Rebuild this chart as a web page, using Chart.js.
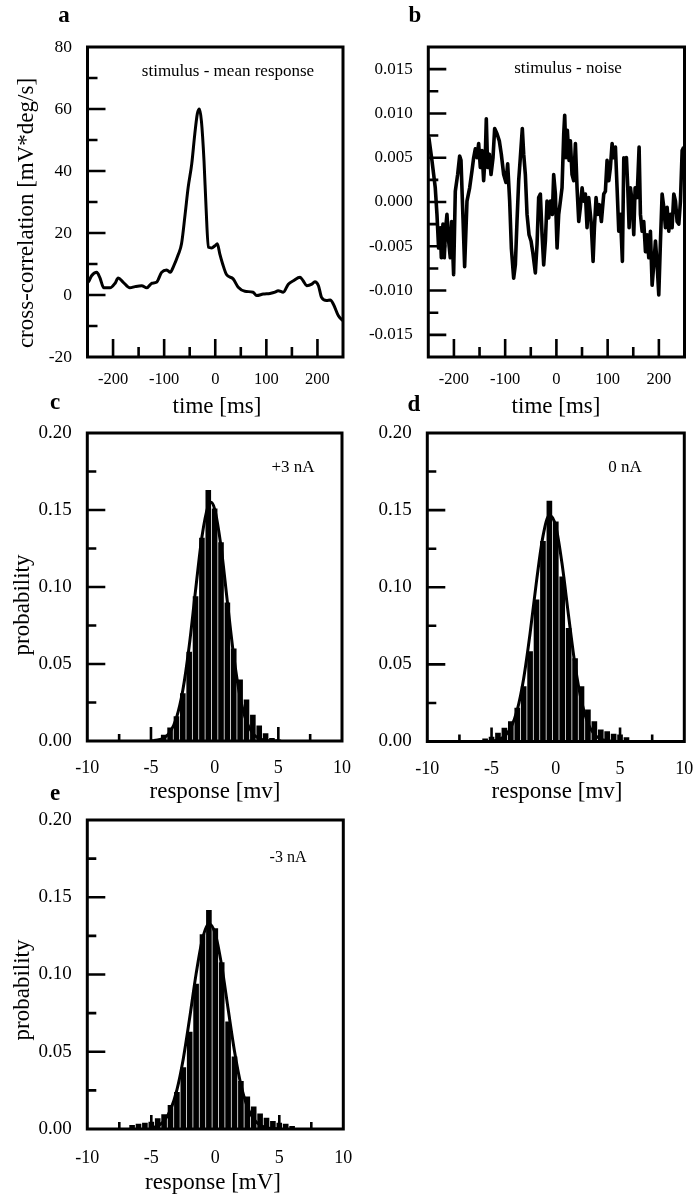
<!DOCTYPE html>
<html>
<head>
<meta charset="utf-8">
<script src="https://cdn.jsdelivr.net/npm/chart.js@4.4.0/dist/chart.umd.min.js"></script>
<style>
html,body{margin:0;padding:0;background:#fff;}
#wrap{position:relative;width:695px;height:1199px;overflow:hidden;font-family:'Liberation Serif','Times New Roman',serif;color:#000;}
#wrap canvas{position:absolute;left:0;top:0;}
.t{position:absolute;white-space:nowrap;line-height:1;transform:translateX(-50%);}
.r{position:absolute;white-space:nowrap;line-height:1;transform:translate(-50%,-50%) rotate(-90deg);}
.p{font-weight:bold;font-size:23px;}
</style>
</head>
<body>
<div id="wrap">
<canvas id="ca" width="780" height="1199"></canvas>
<canvas id="cb" width="780" height="1199"></canvas>
<canvas id="cc" width="780" height="1199"></canvas>
<canvas id="cd" width="780" height="1199"></canvas>
<canvas id="ce" width="780" height="1199"></canvas>

<div class="t p" style="left:64px;top:2.7px;">a</div>
<div class="t p" style="left:415px;top:2.7px;">b</div>
<div class="t p" style="left:55px;top:389.7px;">c</div>
<div class="t p" style="left:414px;top:391.7px;">d</div>
<div class="t p" style="left:55px;top:780.7px;">e</div>

<div class="t" style="left:228px;top:61.8px;font-size:17px;">stimulus - mean response</div>
<div class="t" style="left:568px;top:58.8px;font-size:17px;">stimulus - noise</div>
<div class="t" style="left:293px;top:457.8px;font-size:17px;">+3 nA</div>
<div class="t" style="left:625px;top:457.8px;font-size:17px;">0 nA</div>
<div class="t" style="left:288px;top:848.6px;font-size:16px;">-3 nA</div>

<div class="t" style="left:217px;top:393.7px;font-size:23px;">time [ms]</div>
<div class="t" style="left:556px;top:393.7px;font-size:23px;">time [ms]</div>
<div class="t" style="left:215px;top:778.7px;font-size:23px;">response [mv]</div>
<div class="t" style="left:557px;top:778.7px;font-size:23px;">response [mv]</div>
<div class="t" style="left:213px;top:1169.7px;font-size:23px;">response [mV]</div>

<div class="r" style="left:25px;top:213px;font-size:23px;">cross-correlation [mV*deg/s]</div>
<div class="r" style="left:21px;top:605px;font-size:23px;">probability</div>
<div class="r" style="left:21px;top:990px;font-size:23px;">probability</div>
</div>

<script>
// ---------------- data ----------------
// panel a: stimulus - mean response cross-correlation
const aTime = [-250,-248,-242,-232,-226,-218,-206,-196,-190,-180,-167,-157,-144,-134,-124,-115,-105,-95,-88,-82,-72,-66,-59,-53,-46,-40,-35,-31,-27,-22,-18,-13.5,-7,-0.5,4,9,14.5,22,35,45,58,74,81,94,107,117,123,133,143,153,166,172,179,189,195,202,208,218,225,231,241,250];
const aCorr = [4.0,4.3,6.2,7.3,5.7,2.3,2.3,3.8,5.5,4.1,2.3,2.7,3.0,2.3,3.8,4.1,7.3,8.1,7.3,9.1,13.2,16.5,26,34.7,42.3,52,58.5,60,56,43.3,28.3,15.4,15.2,15.9,16.5,13.2,10,6.6,5.2,2.5,1.2,0.9,-0.2,0.3,0.5,0.9,1.4,0.9,3.5,4.6,5.7,4.6,3.0,3.5,4.3,3.0,-0.75,-1.8,-1.6,-2.9,-6.7,-8.3];

// panel b: stimulus - noise cross-correlation
const bTime = [-249,-242.9,-236.4,-233.1,-229.9,-226.6,-224.6,-221.4,-218.8,-216.2,-213.6,-210.3,-207.1,-204.5,-200.6,-197.3,-192.7,-188.8,-186.2,-182.3,-179.1,-174.5,-169.3,-164.8,-161.5,-158.2,-155.0,-151.7,-148.5,-145.2,-142.0,-138.7,-136.8,-134.2,-130.9,-127.6,-123.7,-120.5,-115.9,-111.4,-107.5,-102.9,-98.4,-95.1,-91.2,-87.9,-83.4,-80.1,-76.9,-73.6,-70.4,-66.5,-63.8,-60.6,-57.3,-53.4,-49.5,-45.6,-41.1,-37.8,-34.6,-31.3,-28.0,-24.8,-21.5,-18.3,-15.0,-11.8,-7.9,-5.3,-2.0,1.3,4.5,7.8,11.0,14.3,16.2,18.8,21.4,24.7,27.3,30.5,33.8,37.1,40.3,43.6,46.8,50.1,53.3,56.6,59.8,63.1,67.7,71.6,74.2,77.4,80.7,83.9,87.8,92.4,95.6,98.9,102.2,105.4,108.7,111.9,115.2,118.4,121.7,124.9,128.8,131.5,134.7,136.7,139.3,141.9,144.5,147.7,151.0,153.6,157.5,161.4,164.0,167.3,170.5,173.8,177.0,180.3,183.5,186.8,190.0,193.3,196.6,199.8,203.1,206.3,209.6,212.8,216.1,219.3,222.6,225.8,229.1,232.4,235.6,238.9,242.1,245.4,248.6];
const bCorr = [0.0073,0.0047,0.0016,-0.0014,-0.0052,-0.0029,-0.0063,-0.0025,-0.0063,-0.0030,-0.0014,-0.0044,-0.0063,-0.0022,-0.0082,0.0012,0.0031,0.0052,0.0047,-0.0018,-0.0073,0.0001,0.0016,0.0035,0.0050,0.0060,0.0050,0.0066,0.0039,0.0058,0.0024,0.0054,0.0094,0.0039,0.0054,0.0031,0.0050,0.0083,0.0077,0.0069,0.0054,0.0031,0.0022,0.0043,0.0001,-0.0052,-0.0086,-0.0071,-0.0022,0.0024,0.0050,0.0083,0.0054,0.0031,-0.0014,-0.0037,-0.0044,-0.0059,-0.0080,-0.0048,0.0005,0.0009,-0.0037,-0.0071,-0.0044,0.0001,-0.0018,0.0001,-0.0014,0.0031,0.0009,-0.0052,-0.0014,0.0001,0.0016,0.0077,0.0098,0.0050,0.0081,0.0047,0.0069,0.0031,0.0024,0.0066,0.0016,-0.0022,-0.0006,0.0016,0.0001,0.0009,-0.0029,0.0005,-0.0022,-0.0067,-0.0029,0.0005,-0.0014,-0.0003,-0.0022,0.0009,0.0012,0.0047,0.0024,0.0039,0.0066,0.0050,0.0062,0.0016,-0.0033,-0.0014,-0.0067,0.0050,0.0047,0.0050,0.0016,-0.0029,0.0016,0.0001,-0.0037,0.0016,0.0005,0.0062,-0.0014,-0.0033,-0.0022,-0.0056,-0.0037,-0.0063,-0.0033,-0.0094,-0.0071,-0.0044,-0.0071,-0.0105,-0.0044,0.0009,-0.0006,-0.0029,-0.0006,-0.0033,-0.0014,-0.0029,0.0009,0.0001,-0.0022,-0.0025,0.0001,0.0058,0.0062];

// panel c: +3 nA histogram and fit
const cBins = [-5,-4.5,-4,-3.5,-3,-2.5,-2,-1.5,-1,-0.5,0,0.5,1,1.5,2,2.5,3,3.5,4,4.5,5];
const cProb = [0.0005,0.0015,0.004,0.0087,0.016,0.031,0.058,0.094,0.132,0.163,0.151,0.129,0.090,0.060,0.040,0.027,0.017,0.010,0.005,0.002,0.001];
const cFitX = [-5,-4.5,-4,-3.5,-3,-2.5,-2,-1.5,-1,-0.5,-0.3,0,0.5,1,1.5,2,2.5,3,3.5,4,4.5,5];
const cFitY = [0.0001,0.0005,0.0019,0.0058,0.015,0.0329,0.0615,0.0978,0.1325,0.153,0.155,0.1506,0.1263,0.0903,0.055,0.0285,0.0126,0.0048,0.0015,0.0004,0.0001,0];

// panel d: 0 nA histogram and fit
const dBins = [-6,-5.5,-5,-4.5,-4,-3.5,-3,-2.5,-2,-1.5,-1,-0.5,0,0.5,1,1.5,2,2.5,3,3.5,4,4.5,5,5.5,6];
const dProb = [0.001,0.002,0.003,0.0056,0.0089,0.0132,0.0218,0.0358,0.0585,0.092,0.130,0.156,0.1426,0.107,0.0736,0.054,0.0358,0.0207,0.0132,0.0078,0.0067,0.005,0.0045,0.0028,0.001];
const dFitX = [-5,-4.5,-4,-3.5,-3,-2.5,-2,-1.5,-1,-0.5,0,0.5,1,1.5,2,2.5,3,3.5,4,4.5,5];
const dFitY = [0.0003,0.0011,0.0033,0.0089,0.0205,0.0409,0.0702,0.104,0.133,0.1467,0.1395,0.1144,0.081,0.0494,0.026,0.0118,0.0046,0.0016,0.0005,0.0001,0];

// panel e: -3 nA histogram and fit
const eBins = [-6.5,-6,-5.5,-5,-4.5,-4,-3.5,-3,-2.5,-2,-1.5,-1,-0.5,0,0.5,1,1.5,2,2.5,3,3.5,4,4.5,5,5.5,6];
const eProb = [0.0026,0.0034,0.004,0.0047,0.0069,0.0095,0.0155,0.024,0.040,0.063,0.094,0.126,0.1417,0.130,0.108,0.0695,0.047,0.031,0.021,0.0145,0.0101,0.0073,0.0052,0.004,0.0034,0.002];
const eFitX = [-5,-4.5,-4,-3.5,-3,-2.5,-2,-1.5,-1,-0.5,0,0.5,1,1.5,2,2.5,3,3.5,4,4.5,5];
const eFitY = [0.0007,0.002,0.0053,0.0124,0.0253,0.0455,0.072,0.1004,0.1231,0.1329,0.1263,0.1057,0.0778,0.0504,0.0288,0.0144,0.0064,0.0025,0.0009,0.0003,0.0001];

// tick values and labels
const timeTicks = [-250,-200,-150,-100,-50,0,50,100,150,200,250];
const timeLabels = ['','-200','','-100','','0','','100','','200',''];
const aYTicks = [-20,-10,0,10,20,30,40,50,60,70,80];
const aYLabels = ['-20','','0','','20','','40','','60','','80'];
const bYTicks = [-0.015,-0.0125,-0.01,-0.0075,-0.005,-0.0025,0,0.0025,0.005,0.0075,0.01,0.0125,0.015];
const bYLabels = ['-0.015','','-0.010','','-0.005','','0.000','','0.005','','0.010','','0.015'];
const respTicks = [-10,-7.5,-5,-2.5,0,2.5,5,7.5,10];
const respLabels = ['-10','','-5','','0','','5','','10'];
const probTicks = [0,0.025,0.05,0.075,0.1,0.125,0.15,0.175,0.2];
const probLabels = ['0.00','','0.05','','0.10','','0.15','','0.20'];

// ---------------- drawing ----------------
const W = 780, H = 1199, YW = 70, XH = 45;
const FONT = "'Liberation Serif','Times New Roman',serif";
Chart.defaults.font.family = FONT;
Chart.defaults.color = '#000';

function pts(xs, ys) { return xs.map((x, i) => ({x: x, y: ys[i]})); }

function marks(xLab, yLab, xMaj, xMin, yMaj, yMin) {
  return {
    id: 'marks',
    afterDatasetsDraw(chart) {
      const ctx = chart.ctx, a = chart.chartArea, sx = chart.scales.x, sy = chart.scales.y;
      ctx.save();
      ctx.strokeStyle = '#000';
      ctx.lineCap = 'butt';
      ctx.lineWidth = 2.6;
      ctx.beginPath();
      sx.ticks.forEach((t, i) => {
        if (t.value <= sx.min || t.value >= sx.max) return;
        const p = sx.getPixelForValue(t.value);
        const L = xLab[i] ? xMaj : xMin;
        ctx.moveTo(p, a.bottom); ctx.lineTo(p, a.bottom - L);
      });
      sy.ticks.forEach((t, i) => {
        if (t.value <= sy.min || t.value >= sy.max) return;
        const p = sy.getPixelForValue(t.value);
        const L = yLab[i] ? yMaj : yMin;
        ctx.moveTo(a.left, p); ctx.lineTo(a.left + L, p);
      });
      ctx.stroke();
      ctx.lineWidth = 3;
      ctx.strokeRect(a.left, a.top, a.right - a.left, a.bottom - a.top);
      ctx.restore();
    }
  };
}

function panel(id, area, datasets, X, Y, mk) {
  return new Chart(document.getElementById(id), {
    type: 'line',
    data: {datasets: datasets},
    options: {
      responsive: false,
      animation: false,
      events: [],
      layout: {padding: {left: area.l - YW, top: area.t, right: W - area.r, bottom: H - area.b - XH}},
      plugins: {legend: {display: false}, tooltip: {enabled: false}},
      scales: {
        x: {
          type: 'linear', bounds: 'data', min: X.min, max: X.max, offset: false,
          grid: {display: false, drawTicks: false}, border: {display: false},
          afterBuildTicks: s => { s.ticks = X.ticks.map(v => ({value: v})); },
          afterFit: s => { s.height = XH; },
          ticks: {autoSkip: false, maxRotation: 0, minRotation: 0, padding: X.pad, color: '#000',
                  font: {family: FONT, size: X.fs}, callback: (v, i) => X.labels[i]}
        },
        y: {
          type: 'linear', bounds: 'data', min: Y.min, max: Y.max,
          grid: {display: false, drawTicks: false}, border: {display: false},
          afterBuildTicks: s => { s.ticks = Y.ticks.map(v => ({value: v})); },
          afterFit: s => { s.width = YW; },
          ticks: {autoSkip: false, padding: Y.pad, color: '#000',
                  font: {family: FONT, size: Y.fs}, callback: (v, i) => Y.labels[i]}
        }
      }
    },
    plugins: [mk]
  });
}

function lineDS(data, w, mono) {
  return {type: 'line', data: data, borderColor: '#000', borderWidth: w, pointRadius: 0,
          fill: false, tension: mono ? 0.4 : 0, cubicInterpolationMode: mono ? 'monotone' : 'default',
          borderJoinStyle: 'round', order: 0};
}
function barDS(xs, ys) {
  return {type: 'bar', data: pts(xs, ys), backgroundColor: '#000', borderWidth: 0,
          barPercentage: 0.88, categoryPercentage: 1.0, order: 1};
}

// panel a
panel('ca', {l: 87.5, r: 343, t: 47, b: 357},
  [lineDS(pts(aTime, aCorr), 3, true)],
  {min: -250, max: 250, ticks: timeTicks, labels: timeLabels, pad: 13, fs: 16.5},
  {min: -20, max: 80, ticks: aYTicks, labels: aYLabels, pad: 15.5, fs: 17.5},
  marks(timeLabels, aYLabels, 18, 10, 18, 10));

// panel b
panel('cb', {l: 428.3, r: 684.5, t: 47, b: 357},
  [lineDS(pts(bTime, bCorr), 3.6, false)],
  {min: -250, max: 250, ticks: timeTicks, labels: timeLabels, pad: 13, fs: 16.5},
  {min: -0.0175, max: 0.0175, ticks: bYTicks, labels: bYLabels, pad: 15.5, fs: 17},
  marks(timeLabels, bYLabels, 18, 10, 18, 10));

// panel c
panel('cc', {l: 87.3, r: 342, t: 433, b: 741},
  [lineDS(pts(cFitX, cFitY), 3, true), barDS(cBins, cProb)],
  {min: -10, max: 10, ticks: respTicks, labels: respLabels, pad: 16.5, fs: 18},
  {min: 0, max: 0.2, ticks: probTicks, labels: probLabels, pad: 15.5, fs: 19},
  marks(respLabels, probLabels, 14, 7, 18, 9));

// panel d
panel('cd', {l: 427.3, r: 684.3, t: 433, b: 741.5},
  [lineDS(pts(dFitX, dFitY), 3, true), barDS(dBins, dProb)],
  {min: -10, max: 10, ticks: respTicks, labels: respLabels, pad: 16.5, fs: 18},
  {min: 0, max: 0.2, ticks: probTicks, labels: probLabels, pad: 15.5, fs: 19},
  marks(respLabels, probLabels, 14, 7, 18, 9));

// panel e
panel('ce', {l: 87.3, r: 343.3, t: 820, b: 1129},
  [lineDS(pts(eFitX, eFitY), 3, true), barDS(eBins, eProb)],
  {min: -10, max: 10, ticks: respTicks, labels: respLabels, pad: 18.5, fs: 18},
  {min: 0, max: 0.2, ticks: probTicks, labels: probLabels, pad: 15.5, fs: 19},
  marks(respLabels, probLabels, 14, 7, 18, 9));
</script>
</body>
</html>
